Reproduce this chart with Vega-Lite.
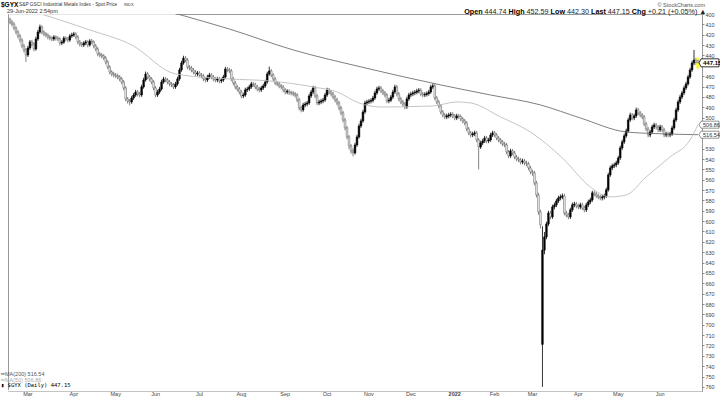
{
"$schema":"https://vega.github.io/schema/vega-lite/v6.json",
"width":694,"height":377,
"autosize":{"type":"none"},
"padding":{"left":8,"top":14,"right":18,"bottom":6},
"background":"white",
"config":{"view":{"stroke":"#999","strokeWidth":1},"font":"Liberation Sans","axis":{"title":null,"grid":false,"labelOverlap":false},"text":{"font":"Liberation Sans"}},
"datasets":{
"px":[
{"d":"2021-02-16","o":405.0,"h":410.0,"l":403.5,"c":407.7},
{"d":"2021-02-17","o":407.7,"h":411.8,"l":405.9,"c":409.7},
{"d":"2021-02-18","o":409.7,"h":415.6,"l":408.0,"c":413.5},
{"d":"2021-02-19","o":413.5,"h":419.5,"l":411.8,"c":417.4},
{"d":"2021-02-22","o":417.4,"h":423.4,"l":415.6,"c":421.2},
{"d":"2021-02-23","o":421.2,"h":427.5,"l":419.3,"c":425.1},
{"d":"2021-02-24","o":425.1,"h":433.0,"l":423.4,"c":430.9},
{"d":"2021-02-25","o":430.9,"h":437.1,"l":428.8,"c":434.7},
{"d":"2021-02-26","o":434.7,"h":446.3,"l":432.9,"c":439.6},
{"d":"2021-03-01","o":439.6,"h":441.5,"l":430.7,"c":432.8},
{"d":"2021-03-02","o":432.8,"h":434.6,"l":425.1,"c":427.0},
{"d":"2021-03-03","o":427.0,"h":431.2,"l":425.0,"c":429.0},
{"d":"2021-03-04","o":429.0,"h":436.0,"l":427.2,"c":433.8},
{"d":"2021-03-05","o":433.8,"h":435.4,"l":422.0,"c":424.1},
{"d":"2021-03-08","o":424.1,"h":425.9,"l":415.3,"c":417.4},
{"d":"2021-03-09","o":417.4,"h":419.0,"l":410.2,"c":412.5},
{"d":"2021-03-10","o":412.5,"h":419.6,"l":410.9,"c":417.4},
{"d":"2021-03-11","o":417.4,"h":421.5,"l":415.8,"c":419.3},
{"d":"2021-03-12","o":419.3,"h":422.6,"l":417.5,"c":420.3},
{"d":"2021-03-15","o":420.3,"h":424.5,"l":418.6,"c":422.2},
{"d":"2021-03-16","o":422.2,"h":425.4,"l":420.3,"c":423.2},
{"d":"2021-03-17","o":423.2,"h":426.4,"l":421.5,"c":424.1},
{"d":"2021-03-18","o":424.1,"h":426.0,"l":420.4,"c":422.2},
{"d":"2021-03-19","o":422.2,"h":425.6,"l":420.6,"c":423.2},
{"d":"2021-03-22","o":423.2,"h":426.2,"l":421.4,"c":424.1},
{"d":"2021-03-23","o":424.1,"h":430.3,"l":422.5,"c":428.0},
{"d":"2021-03-24","o":428.0,"h":430.1,"l":425.3,"c":427.2},
{"d":"2021-03-25","o":427.2,"h":428.8,"l":421.4,"c":423.2},
{"d":"2021-03-26","o":423.2,"h":426.1,"l":421.6,"c":424.0},
{"d":"2021-03-29","o":424.0,"h":427.3,"l":422.2,"c":425.1},
{"d":"2021-03-30","o":425.1,"h":426.9,"l":419.4,"c":421.2},
{"d":"2021-03-31","o":421.2,"h":423.0,"l":418.1,"c":420.3},
{"d":"2021-04-01","o":420.3,"h":422.1,"l":417.2,"c":419.3},
{"d":"2021-04-05","o":419.3,"h":424.4,"l":417.6,"c":422.2},
{"d":"2021-04-06","o":422.2,"h":429.3,"l":420.5,"c":427.0},
{"d":"2021-04-07","o":427.0,"h":431.4,"l":425.2,"c":429.0},
{"d":"2021-04-08","o":429.0,"h":432.0,"l":427.1,"c":429.9},
{"d":"2021-04-09","o":429.9,"h":431.8,"l":426.2,"c":428.0},
{"d":"2021-04-12","o":428.0,"h":430.1,"l":425.0,"c":427.0},
{"d":"2021-04-13","o":427.0,"h":432.1,"l":425.3,"c":429.9},
{"d":"2021-04-14","o":429.9,"h":431.5,"l":424.3,"c":426.1},
{"d":"2021-04-15","o":426.1,"h":429.2,"l":424.2,"c":427.0},
{"d":"2021-04-16","o":427.0,"h":433.0,"l":425.4,"c":430.9},
{"d":"2021-04-19","o":430.9,"h":436.1,"l":429.0,"c":433.8},
{"d":"2021-04-20","o":433.8,"h":440.8,"l":432.0,"c":438.6},
{"d":"2021-04-21","o":438.6,"h":441.9,"l":436.7,"c":439.6},
{"d":"2021-04-22","o":439.6,"h":442.8,"l":437.8,"c":440.5},
{"d":"2021-04-23","o":440.5,"h":444.6,"l":438.7,"c":442.5},
{"d":"2021-04-26","o":442.5,"h":448.5,"l":440.6,"c":446.3},
{"d":"2021-04-27","o":446.3,"h":453.4,"l":444.5,"c":451.2},
{"d":"2021-04-28","o":451.2,"h":458.3,"l":449.4,"c":456.0},
{"d":"2021-04-29","o":456.0,"h":460.1,"l":454.2,"c":457.9},
{"d":"2021-04-30","o":457.9,"h":461.2,"l":455.8,"c":458.9},
{"d":"2021-05-03","o":458.9,"h":462.0,"l":456.9,"c":459.8},
{"d":"2021-05-04","o":459.8,"h":463.1,"l":457.6,"c":460.8},
{"d":"2021-05-05","o":460.8,"h":465.0,"l":458.9,"c":462.7},
{"d":"2021-05-06","o":462.7,"h":467.9,"l":460.8,"c":465.6},
{"d":"2021-05-07","o":465.6,"h":473.6,"l":463.7,"c":471.4},
{"d":"2021-05-10","o":471.4,"h":484.3,"l":469.5,"c":482.0},
{"d":"2021-05-11","o":482.0,"h":486.5,"l":480.1,"c":484.0},
{"d":"2021-05-12","o":484.0,"h":488.2,"l":481.9,"c":484.9},
{"d":"2021-05-13","o":484.9,"h":486.7,"l":479.0,"c":481.1},
{"d":"2021-05-14","o":481.1,"h":483.0,"l":476.1,"c":478.2},
{"d":"2021-05-17","o":478.2,"h":480.0,"l":473.2,"c":475.3},
{"d":"2021-05-18","o":475.3,"h":479.6,"l":473.4,"c":477.2},
{"d":"2021-05-19","o":477.2,"h":480.5,"l":475.1,"c":478.2},
{"d":"2021-05-20","o":478.2,"h":480.0,"l":468.3,"c":470.4},
{"d":"2021-05-21","o":470.4,"h":472.2,"l":461.5,"c":463.7},
{"d":"2021-05-24","o":463.7,"h":465.3,"l":455.6,"c":457.9},
{"d":"2021-05-25","o":457.9,"h":463.0,"l":456.0,"c":460.8},
{"d":"2021-05-26","o":460.8,"h":465.0,"l":458.9,"c":462.7},
{"d":"2021-05-27","o":462.7,"h":467.8,"l":460.9,"c":465.6},
{"d":"2021-05-28","o":465.6,"h":473.7,"l":463.8,"c":471.4},
{"d":"2021-06-01","o":471.4,"h":480.4,"l":469.6,"c":478.2},
{"d":"2021-06-02","o":478.2,"h":480.1,"l":473.2,"c":475.3},
{"d":"2021-06-03","o":475.3,"h":477.2,"l":470.3,"c":472.4},
{"d":"2021-06-04","o":472.4,"h":474.0,"l":463.5,"c":465.6},
{"d":"2021-06-07","o":465.6,"h":467.4,"l":460.6,"c":462.7},
{"d":"2021-06-08","o":462.7,"h":465.9,"l":460.8,"c":463.7},
{"d":"2021-06-09","o":463.7,"h":467.8,"l":461.8,"c":465.6},
{"d":"2021-06-10","o":465.6,"h":469.8,"l":463.7,"c":467.5},
{"d":"2021-06-11","o":467.5,"h":470.7,"l":465.6,"c":468.5},
{"d":"2021-06-14","o":468.5,"h":472.6,"l":466.6,"c":470.4},
{"d":"2021-06-15","o":470.4,"h":472.3,"l":465.4,"c":467.5},
{"d":"2021-06-16","o":467.5,"h":469.3,"l":460.6,"c":462.7},
{"d":"2021-06-17","o":462.7,"h":464.4,"l":451.9,"c":454.0},
{"d":"2021-06-18","o":454.0,"h":455.8,"l":445.1,"c":447.3},
{"d":"2021-06-21","o":447.3,"h":449.0,"l":440.3,"c":442.5},
{"d":"2021-06-22","o":442.5,"h":446.6,"l":440.6,"c":444.4},
{"d":"2021-06-23","o":444.4,"h":453.4,"l":442.6,"c":451.2},
{"d":"2021-06-24","o":451.2,"h":454.5,"l":449.3,"c":452.1},
{"d":"2021-06-25","o":452.1,"h":456.3,"l":450.2,"c":454.0},
{"d":"2021-06-28","o":454.0,"h":458.2,"l":452.1,"c":456.0},
{"d":"2021-06-29","o":456.0,"h":460.2,"l":454.1,"c":457.9},
{"d":"2021-06-30","o":457.9,"h":460.0,"l":455.0,"c":457.0},
{"d":"2021-07-01","o":457.0,"h":461.1,"l":455.2,"c":458.9},
{"d":"2021-07-02","o":458.9,"h":462.1,"l":456.9,"c":459.8},
{"d":"2021-07-06","o":459.8,"h":464.9,"l":457.9,"c":462.7},
{"d":"2021-07-07","o":462.7,"h":466.0,"l":460.8,"c":463.7},
{"d":"2021-07-08","o":463.7,"h":465.6,"l":458.7,"c":460.8},
{"d":"2021-07-09","o":460.8,"h":462.7,"l":456.8,"c":458.9},
{"d":"2021-07-12","o":458.9,"h":463.0,"l":457.0,"c":460.8},
{"d":"2021-07-13","o":460.8,"h":465.0,"l":458.9,"c":462.7},
{"d":"2021-07-14","o":462.7,"h":466.0,"l":460.7,"c":463.7},
{"d":"2021-07-15","o":463.7,"h":465.8,"l":460.6,"c":462.7},
{"d":"2021-07-16","o":462.7,"h":466.9,"l":460.8,"c":464.6},
{"d":"2021-07-19","o":464.6,"h":466.7,"l":461.6,"c":463.7},
{"d":"2021-07-20","o":463.7,"h":465.5,"l":458.7,"c":460.8},
{"d":"2021-07-21","o":460.8,"h":462.6,"l":451.0,"c":453.1},
{"d":"2021-07-22","o":453.1,"h":456.3,"l":451.2,"c":454.0},
{"d":"2021-07-23","o":454.0,"h":457.2,"l":452.0,"c":455.0},
{"d":"2021-07-26","o":455.0,"h":464.9,"l":453.1,"c":462.7},
{"d":"2021-07-27","o":462.7,"h":468.8,"l":460.8,"c":466.6},
{"d":"2021-07-28","o":466.6,"h":472.7,"l":464.7,"c":470.4},
{"d":"2021-07-29","o":470.4,"h":474.7,"l":468.5,"c":472.4},
{"d":"2021-07-30","o":472.4,"h":477.6,"l":470.5,"c":475.3},
{"d":"2021-08-02","o":475.3,"h":481.4,"l":473.4,"c":479.1},
{"d":"2021-08-03","o":479.1,"h":481.2,"l":476.1,"c":478.2},
{"d":"2021-08-04","o":478.2,"h":480.0,"l":471.2,"c":473.3},
{"d":"2021-08-05","o":473.3,"h":475.3,"l":470.3,"c":472.4},
{"d":"2021-08-06","o":472.4,"h":474.3,"l":468.3,"c":470.4},
{"d":"2021-08-09","o":470.4,"h":472.2,"l":465.4,"c":467.5},
{"d":"2021-08-10","o":467.5,"h":470.4,"l":465.5,"c":468.2},
{"d":"2021-08-11","o":468.2,"h":472.7,"l":466.3,"c":470.4},
{"d":"2021-08-12","o":470.4,"h":474.6,"l":468.5,"c":472.4},
{"d":"2021-08-13","o":472.4,"h":475.6,"l":470.4,"c":473.3},
{"d":"2021-08-16","o":473.3,"h":475.3,"l":469.3,"c":471.4},
{"d":"2021-08-17","o":471.4,"h":473.3,"l":467.3,"c":469.4},
{"d":"2021-08-18","o":469.4,"h":471.2,"l":463.5,"c":465.6},
{"d":"2021-08-19","o":465.6,"h":467.3,"l":455.8,"c":457.9},
{"d":"2021-08-20","o":457.9,"h":459.6,"l":450.8,"c":455.0},
{"d":"2021-08-23","o":455.0,"h":461.1,"l":453.1,"c":458.9},
{"d":"2021-08-24","o":458.9,"h":464.9,"l":457.0,"c":462.7},
{"d":"2021-08-25","o":462.7,"h":468.8,"l":460.8,"c":466.6},
{"d":"2021-08-26","o":466.6,"h":469.8,"l":464.6,"c":467.5},
{"d":"2021-08-27","o":467.5,"h":471.7,"l":465.6,"c":469.4},
{"d":"2021-08-30","o":469.4,"h":472.6,"l":467.5,"c":470.4},
{"d":"2021-08-31","o":470.4,"h":475.5,"l":468.5,"c":473.3},
{"d":"2021-09-01","o":473.3,"h":477.6,"l":471.4,"c":475.3},
{"d":"2021-09-02","o":475.3,"h":477.4,"l":472.6,"c":474.6},
{"d":"2021-09-03","o":474.6,"h":478.2,"l":472.7,"c":476.0},
{"d":"2021-09-07","o":476.0,"h":478.5,"l":474.0,"c":476.2},
{"d":"2021-09-08","o":476.2,"h":479.4,"l":474.3,"c":477.2},
{"d":"2021-09-09","o":477.2,"h":480.5,"l":475.3,"c":478.2},
{"d":"2021-09-10","o":478.2,"h":485.2,"l":476.4,"c":483.0},
{"d":"2021-09-13","o":483.0,"h":493.0,"l":481.1,"c":490.7},
{"d":"2021-09-14","o":490.7,"h":494.9,"l":488.8,"c":492.6},
{"d":"2021-09-15","o":492.6,"h":494.4,"l":485.7,"c":487.8},
{"d":"2021-09-16","o":487.8,"h":490.0,"l":484.8,"c":486.9},
{"d":"2021-09-17","o":486.9,"h":489.1,"l":483.8,"c":485.9},
{"d":"2021-09-20","o":485.9,"h":487.7,"l":477.0,"c":479.1},
{"d":"2021-09-21","o":479.1,"h":481.0,"l":473.2,"c":475.3},
{"d":"2021-09-22","o":475.3,"h":477.2,"l":469.3,"c":471.4},
{"d":"2021-09-23","o":471.4,"h":481.3,"l":469.5,"c":479.1},
{"d":"2021-09-24","o":479.1,"h":488.1,"l":477.2,"c":485.9},
{"d":"2021-09-27","o":485.9,"h":488.0,"l":482.8,"c":484.9},
{"d":"2021-09-28","o":484.9,"h":487.1,"l":481.9,"c":484.0},
{"d":"2021-09-29","o":484.0,"h":486.1,"l":480.9,"c":483.0},
{"d":"2021-09-30","o":483.0,"h":484.8,"l":476.1,"c":478.2},
{"d":"2021-10-01","o":478.2,"h":480.0,"l":471.2,"c":473.3},
{"d":"2021-10-04","o":473.3,"h":477.5,"l":471.4,"c":475.3},
{"d":"2021-10-05","o":475.3,"h":479.5,"l":473.4,"c":477.2},
{"d":"2021-10-06","o":477.2,"h":482.3,"l":475.3,"c":480.1},
{"d":"2021-10-07","o":480.1,"h":485.3,"l":478.2,"c":483.0},
{"d":"2021-10-08","o":483.0,"h":488.2,"l":481.1,"c":485.9},
{"d":"2021-10-11","o":485.9,"h":493.0,"l":484.0,"c":490.7},
{"d":"2021-10-12","o":490.7,"h":497.8,"l":488.8,"c":495.5},
{"d":"2021-10-13","o":495.5,"h":504.6,"l":493.6,"c":502.3},
{"d":"2021-10-14","o":502.3,"h":512.4,"l":500.4,"c":510.0},
{"d":"2021-10-15","o":510.0,"h":521.0,"l":508.1,"c":518.7},
{"d":"2021-10-18","o":518.7,"h":530.5,"l":516.8,"c":527.4},
{"d":"2021-10-19","o":527.4,"h":535.0,"l":525.5,"c":532.2},
{"d":"2021-10-20","o":532.2,"h":537.5,"l":529.8,"c":534.1},
{"d":"2021-10-21","o":534.1,"h":535.8,"l":524.3,"c":526.4},
{"d":"2021-10-22","o":526.4,"h":528.2,"l":516.6,"c":518.7},
{"d":"2021-10-25","o":518.7,"h":520.4,"l":506.0,"c":508.1},
{"d":"2021-10-26","o":508.1,"h":510.0,"l":501.1,"c":503.2},
{"d":"2021-10-27","o":503.2,"h":505.0,"l":492.5,"c":494.6},
{"d":"2021-10-28","o":494.6,"h":496.4,"l":483.8,"c":485.9},
{"d":"2021-10-29","o":485.9,"h":488.0,"l":482.8,"c":484.9},
{"d":"2021-11-01","o":484.9,"h":487.0,"l":482.1,"c":484.2},
{"d":"2021-11-02","o":484.2,"h":486.3,"l":481.4,"c":483.5},
{"d":"2021-11-03","o":483.5,"h":485.4,"l":479.0,"c":481.1},
{"d":"2021-11-04","o":481.1,"h":482.9,"l":474.1,"c":476.2},
{"d":"2021-11-05","o":476.2,"h":478.0,"l":470.3,"c":472.4},
{"d":"2021-11-08","o":472.4,"h":474.3,"l":469.3,"c":471.4},
{"d":"2021-11-09","o":471.4,"h":476.5,"l":469.5,"c":474.3},
{"d":"2021-11-10","o":474.3,"h":478.4,"l":472.4,"c":476.2},
{"d":"2021-11-11","o":476.2,"h":480.4,"l":474.3,"c":478.2},
{"d":"2021-11-12","o":478.2,"h":486.2,"l":476.3,"c":484.0},
{"d":"2021-11-15","o":484.0,"h":486.1,"l":481.1,"c":483.2},
{"d":"2021-11-16","o":483.2,"h":485.0,"l":478.0,"c":480.1},
{"d":"2021-11-17","o":480.1,"h":482.0,"l":473.2,"c":475.3},
{"d":"2021-11-18","o":475.3,"h":477.1,"l":468.3,"c":470.4},
{"d":"2021-11-19","o":470.4,"h":479.4,"l":468.5,"c":477.2},
{"d":"2021-11-22","o":477.2,"h":484.3,"l":475.3,"c":482.0},
{"d":"2021-11-23","o":482.0,"h":487.1,"l":480.1,"c":484.9},
{"d":"2021-11-24","o":484.9,"h":489.2,"l":483.0,"c":486.9},
{"d":"2021-11-26","o":486.9,"h":492.1,"l":485.0,"c":489.8},
{"d":"2021-11-29","o":489.8,"h":491.6,"l":479.9,"c":482.0},
{"d":"2021-11-30","o":482.0,"h":483.9,"l":476.1,"c":478.2},
{"d":"2021-12-01","o":478.2,"h":480.3,"l":475.1,"c":477.2},
{"d":"2021-12-02","o":477.2,"h":479.3,"l":474.1,"c":476.2},
{"d":"2021-12-03","o":476.2,"h":478.4,"l":473.4,"c":475.5},
{"d":"2021-12-06","o":475.5,"h":477.5,"l":472.2,"c":474.3},
{"d":"2021-12-07","o":474.3,"h":476.5,"l":471.5,"c":473.6},
{"d":"2021-12-08","o":473.6,"h":479.4,"l":471.7,"c":477.2},
{"d":"2021-12-09","o":477.2,"h":480.4,"l":475.2,"c":478.2},
{"d":"2021-12-10","o":478.2,"h":480.3,"l":475.5,"c":477.6},
{"d":"2021-12-13","o":477.6,"h":479.7,"l":474.7,"c":476.8},
{"d":"2021-12-14","o":476.8,"h":478.9,"l":473.2,"c":475.3},
{"d":"2021-12-15","o":475.3,"h":477.1,"l":468.3,"c":470.4},
{"d":"2021-12-16","o":470.4,"h":472.3,"l":467.3,"c":469.4},
{"d":"2021-12-17","o":469.4,"h":483.2,"l":467.5,"c":481.1},
{"d":"2021-12-20","o":481.1,"h":487.1,"l":479.2,"c":484.9},
{"d":"2021-12-21","o":484.9,"h":491.0,"l":482.9,"c":488.8},
{"d":"2021-12-22","o":488.8,"h":496.8,"l":486.9,"c":494.6},
{"d":"2021-12-23","o":494.6,"h":499.8,"l":492.7,"c":497.5},
{"d":"2021-12-27","o":497.5,"h":501.6,"l":495.6,"c":499.4},
{"d":"2021-12-28","o":499.4,"h":501.5,"l":496.3,"c":498.4},
{"d":"2021-12-29","o":498.4,"h":500.6,"l":495.4,"c":497.5},
{"d":"2021-12-30","o":497.5,"h":499.7,"l":494.8,"c":496.9},
{"d":"2021-12-31","o":496.9,"h":500.6,"l":494.9,"c":498.4},
{"d":"2022-01-03","o":498.4,"h":502.6,"l":496.5,"c":500.4},
{"d":"2022-01-04","o":500.4,"h":502.4,"l":496.3,"c":498.4},
{"d":"2022-01-05","o":498.4,"h":501.2,"l":496.3,"c":499.0},
{"d":"2022-01-06","o":499.0,"h":503.5,"l":497.1,"c":501.3},
{"d":"2022-01-07","o":501.3,"h":505.5,"l":499.4,"c":503.2},
{"d":"2022-01-10","o":503.2,"h":507.4,"l":501.3,"c":505.2},
{"d":"2022-01-11","o":505.2,"h":513.3,"l":503.3,"c":511.0},
{"d":"2022-01-12","o":511.0,"h":517.0,"l":509.1,"c":514.8},
{"d":"2022-01-13","o":514.8,"h":519.1,"l":512.9,"c":516.8},
{"d":"2022-01-14","o":516.8,"h":518.9,"l":513.7,"c":515.8},
{"d":"2022-01-18","o":515.8,"h":517.9,"l":512.7,"c":514.8},
{"d":"2022-01-19","o":514.8,"h":523.8,"l":512.9,"c":521.6},
{"d":"2022-01-20","o":521.6,"h":550.0,"l":519.7,"c":528.4},
{"d":"2022-01-21","o":528.4,"h":530.3,"l":522.4,"c":524.5},
{"d":"2022-01-24","o":524.5,"h":526.6,"l":520.5,"c":522.6},
{"d":"2022-01-25","o":522.6,"h":524.5,"l":517.6,"c":519.7},
{"d":"2022-01-26","o":519.7,"h":524.8,"l":517.8,"c":522.6},
{"d":"2022-01-27","o":522.6,"h":524.7,"l":519.5,"c":521.6},
{"d":"2022-01-28","o":521.6,"h":523.4,"l":514.7,"c":516.8},
{"d":"2022-01-31","o":516.8,"h":518.7,"l":512.7,"c":514.8},
{"d":"2022-02-01","o":514.8,"h":519.0,"l":512.9,"c":516.8},
{"d":"2022-02-02","o":516.8,"h":521.9,"l":514.9,"c":519.7},
{"d":"2022-02-03","o":519.7,"h":523.9,"l":517.8,"c":521.6},
{"d":"2022-02-04","o":521.6,"h":525.7,"l":519.7,"c":523.5},
{"d":"2022-02-07","o":523.5,"h":527.7,"l":521.6,"c":525.5},
{"d":"2022-02-08","o":525.5,"h":528.7,"l":523.4,"c":526.4},
{"d":"2022-02-09","o":526.4,"h":535.4,"l":524.5,"c":533.2},
{"d":"2022-02-10","o":533.2,"h":539.3,"l":531.3,"c":537.0},
{"d":"2022-02-11","o":537.0,"h":538.9,"l":530.1,"c":532.2},
{"d":"2022-02-14","o":532.2,"h":536.4,"l":530.3,"c":534.1},
{"d":"2022-02-15","o":534.1,"h":540.2,"l":532.2,"c":538.0},
{"d":"2022-02-16","o":538.0,"h":542.2,"l":536.1,"c":539.9},
{"d":"2022-02-17","o":539.9,"h":543.1,"l":537.8,"c":540.9},
{"d":"2022-02-18","o":540.9,"h":545.1,"l":538.9,"c":542.8},
{"d":"2022-02-22","o":542.8,"h":545.0,"l":539.7,"c":541.9},
{"d":"2022-02-23","o":541.9,"h":546.1,"l":539.9,"c":543.8},
{"d":"2022-02-24","o":543.8,"h":547.0,"l":541.6,"c":544.7},
{"d":"2022-02-25","o":544.7,"h":550.9,"l":542.8,"c":548.6},
{"d":"2022-02-28","o":548.6,"h":554.7,"l":546.6,"c":552.4},
{"d":"2022-03-01","o":552.4,"h":556.2,"l":550.3,"c":553.4},
{"d":"2022-03-02","o":553.4,"h":565.5,"l":551.5,"c":563.1},
{"d":"2022-03-03","o":563.1,"h":577.2,"l":561.0,"c":574.7},
{"d":"2022-03-04","o":574.7,"h":594.0,"l":572.6,"c":591.1},
{"d":"2022-03-07","o":591.1,"h":607.0,"l":589.0,"c":603.6},
{"d":"2022-03-08","o":719.0,"h":760.0,"l":605.0,"c":628.0},
{"d":"2022-03-09","o":628.0,"h":632.0,"l":610.5,"c":615.2},
{"d":"2022-03-10","o":615.2,"h":617.5,"l":600.5,"c":602.7},
{"d":"2022-03-11","o":602.7,"h":604.8,"l":589.9,"c":592.1},
{"d":"2022-03-14","o":592.1,"h":598.3,"l":590.0,"c":595.9},
{"d":"2022-03-15","o":595.9,"h":597.8,"l":584.1,"c":586.3},
{"d":"2022-03-16","o":586.3,"h":588.6,"l":582.1,"c":584.3},
{"d":"2022-03-17","o":584.3,"h":586.4,"l":578.4,"c":580.5},
{"d":"2022-03-18","o":580.5,"h":582.5,"l":575.4,"c":577.6},
{"d":"2022-03-21","o":577.6,"h":579.9,"l":574.3,"c":576.6},
{"d":"2022-03-22","o":576.6,"h":578.9,"l":573.4,"c":575.6},
{"d":"2022-03-23","o":575.6,"h":594.5,"l":573.5,"c":592.1},
{"d":"2022-03-24","o":592.1,"h":596.4,"l":590.0,"c":594.0},
{"d":"2022-03-25","o":594.0,"h":598.2,"l":591.9,"c":595.9},
{"d":"2022-03-28","o":595.9,"h":597.9,"l":587.0,"c":589.1},
{"d":"2022-03-29","o":589.1,"h":591.1,"l":582.1,"c":584.3},
{"d":"2022-03-30","o":584.3,"h":586.6,"l":581.2,"c":583.4},
{"d":"2022-03-31","o":583.4,"h":587.6,"l":581.4,"c":585.3},
{"d":"2022-04-01","o":585.3,"h":588.6,"l":583.2,"c":586.3},
{"d":"2022-04-04","o":586.3,"h":588.5,"l":582.1,"c":584.3},
{"d":"2022-04-05","o":584.3,"h":589.4,"l":582.3,"c":587.2},
{"d":"2022-04-06","o":587.2,"h":591.5,"l":585.2,"c":589.1},
{"d":"2022-04-07","o":589.1,"h":591.1,"l":582.2,"c":584.3},
{"d":"2022-04-08","o":584.3,"h":586.4,"l":579.3,"c":581.4},
{"d":"2022-04-11","o":581.4,"h":583.5,"l":577.4,"c":579.5},
{"d":"2022-04-12","o":579.5,"h":581.4,"l":570.6,"c":572.7},
{"d":"2022-04-13","o":572.7,"h":576.0,"l":570.6,"c":573.7},
{"d":"2022-04-14","o":573.7,"h":577.9,"l":571.7,"c":575.6},
{"d":"2022-04-18","o":575.6,"h":578.9,"l":573.5,"c":576.6},
{"d":"2022-04-19","o":576.6,"h":579.9,"l":574.5,"c":577.6},
{"d":"2022-04-20","o":577.6,"h":580.0,"l":574.4,"c":576.6},
{"d":"2022-04-21","o":576.6,"h":579.0,"l":573.5,"c":575.6},
{"d":"2022-04-22","o":575.6,"h":577.6,"l":567.6,"c":569.8},
{"d":"2022-04-25","o":569.8,"h":571.5,"l":553.3,"c":555.4},
{"d":"2022-04-26","o":555.4,"h":557.2,"l":546.4,"c":548.6},
{"d":"2022-04-27","o":548.6,"h":550.8,"l":544.5,"c":546.6},
{"d":"2022-04-28","o":546.6,"h":548.8,"l":543.5,"c":545.7},
{"d":"2022-04-29","o":545.7,"h":547.9,"l":541.6,"c":543.8},
{"d":"2022-05-02","o":543.8,"h":545.7,"l":536.9,"c":539.0},
{"d":"2022-05-03","o":539.0,"h":540.9,"l":527.1,"c":529.3},
{"d":"2022-05-04","o":529.3,"h":531.2,"l":521.3,"c":523.5},
{"d":"2022-05-05","o":523.5,"h":525.4,"l":515.6,"c":517.7},
{"d":"2022-05-06","o":517.7,"h":519.6,"l":510.7,"c":512.9},
{"d":"2022-05-09","o":512.9,"h":514.7,"l":500.2,"c":502.3},
{"d":"2022-05-10","o":502.3,"h":504.2,"l":495.3,"c":497.5},
{"d":"2022-05-11","o":497.5,"h":502.6,"l":495.6,"c":500.4},
{"d":"2022-05-12","o":500.4,"h":502.5,"l":496.3,"c":498.4},
{"d":"2022-05-13","o":498.4,"h":500.3,"l":490.4,"c":492.6},
{"d":"2022-05-16","o":492.6,"h":497.7,"l":490.7,"c":495.5},
{"d":"2022-05-17","o":495.5,"h":499.7,"l":493.6,"c":497.5},
{"d":"2022-05-18","o":497.5,"h":501.6,"l":495.6,"c":499.4},
{"d":"2022-05-19","o":499.4,"h":508.3,"l":497.5,"c":506.1},
{"d":"2022-05-20","o":506.1,"h":513.1,"l":504.2,"c":510.9},
{"d":"2022-05-23","o":510.9,"h":519.0,"l":509.0,"c":516.8},
{"d":"2022-05-24","o":516.8,"h":518.9,"l":511.8,"c":513.9},
{"d":"2022-05-25","o":513.9,"h":515.8,"l":506.9,"c":509.0},
{"d":"2022-05-26","o":509.0,"h":511.1,"l":505.0,"c":507.1},
{"d":"2022-05-27","o":507.1,"h":511.3,"l":505.2,"c":509.0},
{"d":"2022-05-31","o":509.0,"h":514.1,"l":507.1,"c":511.9},
{"d":"2022-06-01","o":511.9,"h":513.9,"l":506.9,"c":509.0},
{"d":"2022-06-02","o":509.0,"h":514.1,"l":507.1,"c":511.9},
{"d":"2022-06-03","o":511.9,"h":519.0,"l":510.0,"c":516.8},
{"d":"2022-06-06","o":516.8,"h":518.9,"l":513.7,"c":515.8},
{"d":"2022-06-07","o":515.8,"h":519.0,"l":513.7,"c":516.8},
{"d":"2022-06-08","o":516.8,"h":518.9,"l":513.7,"c":515.8},
{"d":"2022-06-09","o":515.8,"h":517.7,"l":507.9,"c":510.0},
{"d":"2022-06-10","o":510.0,"h":511.8,"l":500.2,"c":502.3},
{"d":"2022-06-13","o":502.3,"h":504.2,"l":490.5,"c":492.6},
{"d":"2022-06-14","o":492.6,"h":494.5,"l":482.8,"c":484.9},
{"d":"2022-06-15","o":484.9,"h":486.8,"l":478.0,"c":480.1},
{"d":"2022-06-16","o":480.1,"h":482.1,"l":474.1,"c":476.2},
{"d":"2022-06-17","o":476.2,"h":478.1,"l":469.3,"c":471.4},
{"d":"2022-06-21","o":471.4,"h":473.3,"l":465.4,"c":467.5},
{"d":"2022-06-22","o":467.5,"h":469.3,"l":458.7,"c":460.8},
{"d":"2022-06-23","o":460.8,"h":462.6,"l":451.9,"c":454.0},
{"d":"2022-06-24","o":454.0,"h":455.9,"l":445.1,"c":447.3},
{"d":"2022-06-27","o":447.3,"h":449.4,"l":434.7,"c":444.4},
{"d":"2022-06-28","o":444.4,"h":449.3,"l":442.2,"c":446.94},
{"d":"2022-06-29","o":444.74,"h":452.59,"l":442.30,"c":447.15}
],
"ma200":[
{"d":"2021-02-16","v":358},{"d":"2021-04-21","v":379},{"d":"2021-06-16","v":400},{"d":"2021-07-23","v":414.5},{"d":"2021-09-08","v":434.7},{"d":"2021-10-26","v":451.1},{"d":"2021-12-22","v":468.5},{"d":"2022-01-28","v":478.2},{"d":"2022-03-07","v":487.8},{"d":"2022-04-04","v":500.4},{"d":"2022-05-06","v":513.9},{"d":"2022-06-01","v":515.6},{"d":"2022-06-29","v":516.54}
],
"ma50":[
{"d":"2021-02-16","v":392},{"d":"2021-03-04","v":398.1},{"d":"2021-04-14","v":415.4},{"d":"2021-05-13","v":429.9},{"d":"2021-06-15","v":457.9},{"d":"2021-07-23","v":462.7},{"d":"2021-08-20","v":464.6},{"d":"2021-09-22","v":470.4},{"d":"2021-10-08","v":475.3},{"d":"2021-10-25","v":485.9},{"d":"2021-11-09","v":489.8},{"d":"2021-12-16","v":488.8},{"d":"2022-01-04","v":484.9},{"d":"2022-01-13","v":485.9},{"d":"2022-02-04","v":499.4},{"d":"2022-02-28","v":514.0},{"d":"2022-03-22","v":539.0},{"d":"2022-04-11","v":567.0},{"d":"2022-04-26","v":576.6},{"d":"2022-05-06","v":574.7},{"d":"2022-05-20","v":557.3},{"d":"2022-06-08","v":538.0},{"d":"2022-06-23","v":521.6},{"d":"2022-06-29","v":506.86}
]
},
"layer":[
{"data":{"name":"px"},"mark":{"type":"rule","strokeWidth":0.8},
"encoding":{
"x":{"field":"d","type":"ordinal","scale":{"type":"band","paddingInner":0,"paddingOuter":1,"align":0.25},
"axis":{"values":["2021-03-01","2021-04-01","2021-05-03","2021-06-01","2021-07-01","2021-08-02","2021-09-01","2021-10-01","2021-11-01","2021-12-01","2022-01-03","2022-02-01","2022-03-01","2022-04-01","2022-05-02","2022-06-01"],
"labelExpr":"slice(datum.value,5,7)=='01' ? slice(datum.value,0,4) : ['Jan','Feb','Mar','Apr','May','Jun','Jul','Aug','Sep','Oct','Nov','Dec'][toNumber(slice(datum.value,5,7))-1]",
"labelAngle":0,"labelFontSize":5.5,"labelColor":"#444","ticks":false,"domain":true,"domainDash":[1,1],"domainColor":"#888","domainWidth":1,"zindex":1,"labelPadding":0,"labelOverlap":false,
"labelFontWeight":{"condition":{"test":"indexof(datum.value,'-01-')>0","value":"bold"},"value":"normal"}}},
"y":{"field":"l","type":"quantitative","scale":{"domain":[400,764],"reverse":true,"zero":false,"nice":false},
"axis":{"orient":"right","values":[400,410,420,430,440,460,470,480,490,500,530,540,550,560,570,580,590,600,610,620,630,640,650,660,670,680,690,700,710,720,730,740,750,760],"tickCount":60,"labelFontSize":5.5,"labelColor":"#444","tickSize":2,"tickColor":"#888","domain":false,"labelPadding":1,"labelOverlap":false}},
"y2":{"field":"h"},
"color":{"condition":{"test":"datum.c < datum.o","value":"#000"},"value":"#666"}}},
{"data":{"name":"px"},"transform":[{"filter":"datum.d=='2022-06-29'"}],"mark":{"type":"bar","size":3.5,"color":"#ffff33"},
"encoding":{"x":{"field":"d","type":"ordinal"},"y":{"field":"l","type":"quantitative"},"y2":{"field":"h"}}},
{"data":{"name":"px"},"mark":{"type":"bar","size":1.6,"strokeWidth":0.6},
"encoding":{"x":{"field":"d","type":"ordinal"},"y":{"field":"o","type":"quantitative"},"y2":{"field":"c"},
"fill":{"condition":{"test":"datum.c < datum.o","value":"#000"},"value":"#fff"},
"stroke":{"condition":{"test":"datum.c < datum.o","value":"#000"},"value":"#666"}}},
{"data":{"name":"ma200"},"mark":{"type":"line","interpolate":"monotone","clip":true,"color":"#707070","strokeWidth":0.9},
"encoding":{"x":{"field":"d","type":"ordinal"},"y":{"field":"v","type":"quantitative"}}},
{"data":{"name":"ma50"},"mark":{"type":"line","interpolate":"monotone","clip":true,"color":"#bdbdbd","strokeWidth":0.9},
"encoding":{"x":{"field":"d","type":"ordinal"},"y":{"field":"v","type":"quantitative"}}},
{"data":{"values":[{}]},"mark":{"type":"rule","color":"#fff","strokeWidth":2},
"encoding":{"y":{"datum":764}}},
{"data":{"values":[{}]},"mark":{"type":"rect","color":"#fff"},
"encoding":{"x":{"datum":"2021-02-16","bandPosition":0},"x2":{"datum":"2021-06-15"},"y":{"datum":398.5},"y2":{"datum":400.8}}},
{"data":{"values":[{"v":447.15}]},"mark":{"type":"point","shape":"M1,0L3,-4H21V4H3Z","size":4,"filled":true,"fill":"#fff","stroke":"#000","strokeWidth":0.8,"opacity":1},
"encoding":{"x":{"datum":"2022-06-29"},"y":{"field":"v","type":"quantitative"}}},
{"data":{"values":[{"v":506.86},{"v":516.54}]},"mark":{"type":"point","shape":"M1,0L3,-3.5H21V3.5H3Z","size":4,"filled":true,"fill":"#fff","stroke":"#777","strokeWidth":0.8,"opacity":1},
"encoding":{"x":{"datum":"2022-06-29"},"y":{"field":"v","type":"quantitative"}}},
{"data":{"values":[{"v":447.15,"t":"447.15"}]},"mark":{"type":"text","align":"left","baseline":"middle","dx":5,"fontSize":6,"fontWeight":"bold","color":"#000"},
"encoding":{"x":{"datum":"2022-06-29"},"y":{"field":"v","type":"quantitative"},"text":{"field":"t"}}},
{"data":{"values":[{"v":506.86,"t":"506.86"},{"v":516.54,"t":"516.54"}]},"mark":{"type":"text","align":"left","baseline":"middle","dx":5,"fontSize":5.5,"color":"#333"},
"encoding":{"x":{"datum":"2022-06-29"},"y":{"field":"v","type":"quantitative"},"text":{"field":"t"}}},
{"data":{"values":[{}]},"mark":{"type":"text","align":"left","baseline":"middle","dx":-9,"dy":-9,"fontSize":6.5,"fontWeight":"bold","color":"#000"},
"encoding":{"x":{"datum":"2021-02-16"},"y":{"datum":400},"text":{"value":"$GYX"}}},
{"data":{"values":[{}]},"mark":{"type":"text","align":"left","baseline":"middle","dx":9,"dy":-9,"fontSize":4.8,"color":"#333"},
"encoding":{"x":{"datum":"2021-02-16"},"y":{"datum":400},"text":{"value":"S&P GSCI Industrial Metals Index - Spot Price"}}},
{"data":{"values":[{}]},"mark":{"type":"text","align":"left","baseline":"middle","dx":114,"dy":-9,"fontSize":4,"color":"#333"},
"encoding":{"x":{"datum":"2021-02-16"},"y":{"datum":400},"text":{"value":"INDX"}}},
{"data":{"values":[{}]},"mark":{"type":"text","align":"left","baseline":"middle","dx":-3,"dy":-3,"fontSize":5.5,"color":"#333"},
"encoding":{"x":{"datum":"2021-02-16"},"y":{"datum":400},"text":{"value":"29-Jun-2022 2:54pm"}}},
{"data":{"values":[{}]},"mark":{"type":"text","align":"right","baseline":"middle","dx":7,"dy":-9.5,"fontSize":5.5,"color":"#555"},
"encoding":{"x":{"datum":"2022-06-29"},"y":{"datum":400},"text":{"value":"© StockCharts.com"}}},
{"data":{"values":[{}]},"mark":{"type":"text","align":"left","baseline":"middle","dx":-233.8,"dy":-2.5,"fontSize":7.2,"fontWeight":"bold","color":"#000"},
"encoding":{"x":{"datum":"2022-06-29"},"y":{"datum":400},"text":{"value":"Open"}}},
{"data":{"values":[{}]},"mark":{"type":"text","align":"left","baseline":"middle","dx":-213.4,"dy":-2.5,"fontSize":7.2,"color":"#222"},
"encoding":{"x":{"datum":"2022-06-29"},"y":{"datum":400},"text":{"value":"444.74"}}},
{"data":{"values":[{}]},"mark":{"type":"text","align":"left","baseline":"middle","dx":-189.4,"dy":-2.5,"fontSize":7.2,"fontWeight":"bold","color":"#000"},
"encoding":{"x":{"datum":"2022-06-29"},"y":{"datum":400},"text":{"value":"High"}}},
{"data":{"values":[{}]},"mark":{"type":"text","align":"left","baseline":"middle","dx":-171.4,"dy":-2.5,"fontSize":7.2,"color":"#222"},
"encoding":{"x":{"datum":"2022-06-29"},"y":{"datum":400},"text":{"value":"452.59"}}},
{"data":{"values":[{}]},"mark":{"type":"text","align":"left","baseline":"middle","dx":-147.4,"dy":-2.5,"fontSize":7.2,"fontWeight":"bold","color":"#000"},
"encoding":{"x":{"datum":"2022-06-29"},"y":{"datum":400},"text":{"value":"Low"}}},
{"data":{"values":[{}]},"mark":{"type":"text","align":"left","baseline":"middle","dx":-131,"dy":-2.5,"fontSize":7.2,"color":"#222"},
"encoding":{"x":{"datum":"2022-06-29"},"y":{"datum":400},"text":{"value":"442.30"}}},
{"data":{"values":[{}]},"mark":{"type":"text","align":"left","baseline":"middle","dx":-107,"dy":-2.5,"fontSize":7.2,"fontWeight":"bold","color":"#000"},
"encoding":{"x":{"datum":"2022-06-29"},"y":{"datum":400},"text":{"value":"Last"}}},
{"data":{"values":[{}]},"mark":{"type":"text","align":"left","baseline":"middle","dx":-90.2,"dy":-2.5,"fontSize":7.2,"color":"#222"},
"encoding":{"x":{"datum":"2022-06-29"},"y":{"datum":400},"text":{"value":"447.15"}}},
{"data":{"values":[{}]},"mark":{"type":"text","align":"left","baseline":"middle","dx":-66.2,"dy":-2.5,"fontSize":7.2,"fontWeight":"bold","color":"#000"},
"encoding":{"x":{"datum":"2022-06-29"},"y":{"datum":400},"text":{"value":"Chg"}}},
{"data":{"values":[{}]},"mark":{"type":"text","align":"left","baseline":"middle","dx":-50.2,"dy":-2.5,"fontSize":7.2,"color":"#222"},
"encoding":{"x":{"datum":"2022-06-29"},"y":{"datum":400},"text":{"value":"+0.21 (+0.05%) ▲"}}},
{"data":{"values":[{}]},"mark":{"type":"text","align":"left","baseline":"middle","dx":-9,"dy":-17,"fontSize":5.5,"color":"#555"},
"encoding":{"x":{"datum":"2021-02-16"},"y":{"datum":764},"text":{"value":"━MA(200) 516.54"}}},
{"data":{"values":[{}]},"mark":{"type":"text","align":"left","baseline":"middle","dx":-9,"dy":-11.5,"fontSize":5.5,"color":"#aaa"},
"encoding":{"x":{"datum":"2021-02-16"},"y":{"datum":764},"text":{"value":"━MA(50) 506.86"}}},
{"data":{"values":[{}]},"mark":{"type":"text","align":"left","baseline":"middle","dx":-9,"dy":-6.5,"fontSize":5.5,"color":"#000","font":"DejaVu Sans Mono"},
"encoding":{"x":{"datum":"2021-02-16"},"y":{"datum":764},"text":{"value":"▮ $GYX (Daily) 447.15"}}}
]
}
